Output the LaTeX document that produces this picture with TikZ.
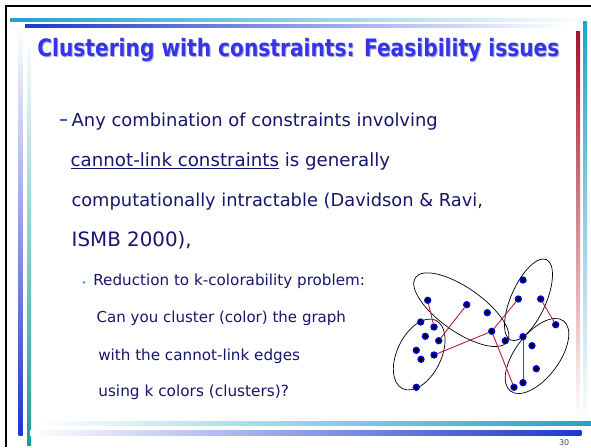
\documentclass[tikz,border=0pt]{standalone}
\usepackage{fontspec}
\setmainfont{DejaVu Sans}
\usepackage{graphicx}
\definecolor{titleblue}{RGB}{52,52,238}
\definecolor{titleshadow}{RGB}{175,175,215}
\definecolor{bodynavy}{RGB}{22,22,110}
\definecolor{dashblue}{RGB}{80,90,185}
\definecolor{bulletcyan}{RGB}{60,170,220}
\definecolor{barcyan}{RGB}{35,160,205}
\definecolor{barblue}{RGB}{30,55,205}
\definecolor{barteal}{RGB}{30,155,155}
\definecolor{barred}{RGB}{165,20,40}
\definecolor{edgered}{RGB}{180,30,60}
\definecolor{dotblue}{RGB}{0,0,235}
\definecolor{pagenum}{RGB}{70,70,130}
\newcommand{\myul}[1]{\setbox0=\hbox{#1}\rlap{\rule[-3.0pt]{\wd0}{1.3pt}}\box0\relax}
\begin{document}
\begin{tikzpicture}[x=1pt,y=-1pt,
  txt/.style={anchor=base west, inner sep=0pt, outer sep=0pt, text=bodynavy},
  mainline/.style={txt, font=\fontsize{18}{20}\selectfont},
  subline/.style={txt, font=\fontsize{15}{17}\selectfont},
  dot/.style={circle, fill=black, draw=dotblue, line width=1.3pt, minimum size=6pt, inner sep=0pt},
  cl/.style={draw=edgered, line width=0.9pt},
  ell/.style={draw=black, line width=0.7pt}]
\useasboundingbox (0,0) rectangle (591,447);
\fill[white] (0,0) rectangle (591,447);
% decorative bars
\shade[left color=barcyan, right color=white] (10,18.5) rectangle (591,21.5);
\shade[left color=barblue, right color=white] (25,24.5) rectangle (566,27.5);
\shade[top color=white, bottom color=barblue] (18.5,27) rectangle (22.5,435);
\shade[top color=white, bottom color=barteal] (27,31) rectangle (31,445);
\shade[top color=barred, bottom color=white] (576,31.7) rectangle (580,418);
\shade[top color=barcyan, bottom color=white] (583,21) rectangle (587,425);
\shade[left color=white, right color=barcyan] (38,421) rectangle (591,425.3);
\shade[left color=white, right color=barblue] (30,430.7) rectangle (581.3,435.3);
\draw[line width=2.3pt] (6.2,447) -- (6.2,6.2) -- (591,6.2);
% title
\node[txt, text=titleshadow] (tshadow) at (38.3,57.7) {\resizebox{522pt}{18.2pt}{\bfseries Clustering with constraints: Feasibility issues}};
\node[txt, text=titleblue] (title) at (37.3,56.7) {\resizebox{522pt}{18.2pt}{\bfseries Clustering with constraints: Feasibility issues}};
% main bullet
\draw[dashblue, line width=1.5pt] (59.5,119.8) -- (67.3,119.8);
\node[mainline] (l1) at (71.7,126.5) {\resizebox{366pt}{!}{Any combination of constraints involving}};
\node[mainline] (l2) at (70.7,166) {\resizebox{319.5pt}{!}{\myul{cannot-link constraints} is generally}};
\node[mainline] (l3) at (71.5,206) {\resizebox{411.5pt}{!}{computationally intractable (Davidson \& Ravi,}};
\node[mainline] (l4) at (71.7,246) {\resizebox{120pt}{!}{ISMB 2000),}};
% sub bullet
\fill[bulletcyan] (84,282.3) circle (1.5);
\node[subline] (s1) at (93.3,285) {\resizebox{271.7pt}{!}{Reduction to k-colorability problem:}};
\node[subline] (s2) at (96.7,322.7) {\resizebox{249.3pt}{!}{Can you cluster (color) the graph}};
\node[subline] (s3) at (98.3,360) {\resizebox{201.7pt}{!}{with the cannot-link edges}};
\node[subline] (s4) at (98.3,396.7) {\resizebox{190.7pt}{!}{using k colors (clusters)?}};
% clusters
\draw[ell, rotate around={64:(419.2,354.5)}] (419.2,354.5) ellipse [x radius=38, y radius=22];
\draw[ell, rotate around={-35:(461.3,309.7)}] (461.3,309.7) ellipse [x radius=56, y radius=22];
\draw[ell, rotate around={66:(528.5,299.8)}] (528.5,299.8) ellipse [x radius=44, y radius=17.5];
\draw[ell, rotate around={53:(537,356)}] (537,356) ellipse [x radius=44, y radius=22];
% points
\node[dot] (A) at (427.7,300.3) {};
\node[dot] (B) at (466.7,304.7) {};
\node[dot] (C) at (487.3,312.7) {};
\node[dot] (D) at (491.7,331.3) {};
\node[dot] (E) at (505.3,340.7) {};
\node[dot] (F) at (420.7,322) {};
\node[dot] (G) at (434,327) {};
\node[dot] (H) at (425.3,336.3) {};
\node[dot] (I) at (438.7,340.7) {};
\node[dot] (J) at (416.3,350.3) {};
\node[dot] (K) at (421,359.3) {};
\node[dot] (L) at (434,355) {};
\node[dot] (M) at (416.3,387.3) {};
\node[dot] (N) at (523,280) {};
\node[dot] (O) at (518.3,299) {};
\node[dot] (P) at (540.7,299) {};
\node[dot] (Q) at (555.7,324.7) {};
\node[dot] (R) at (523,336.7) {};
\node[dot] (S) at (532,345.7) {};
\node[dot] (T) at (536.3,368.7) {};
\node[dot] (U) at (514,387.3) {};
\node[dot] (V) at (523,382.7) {};
% cannot-link edges
\draw[cl] (A) -- (G);
\draw[cl] (B) -- (I);
\draw[cl] (D) -- (L);
\draw[cl] (O) -- (D);
\draw[cl] (D) -- (U);
\draw[cl] (R) -- (V);
\draw[cl] (P) -- (Q);
% page number
\node[txt, text=pagenum, font=\fontsize{8}{9}\selectfont] (pg) at (559,445.6) {30};
\end{tikzpicture}
\end{document}
